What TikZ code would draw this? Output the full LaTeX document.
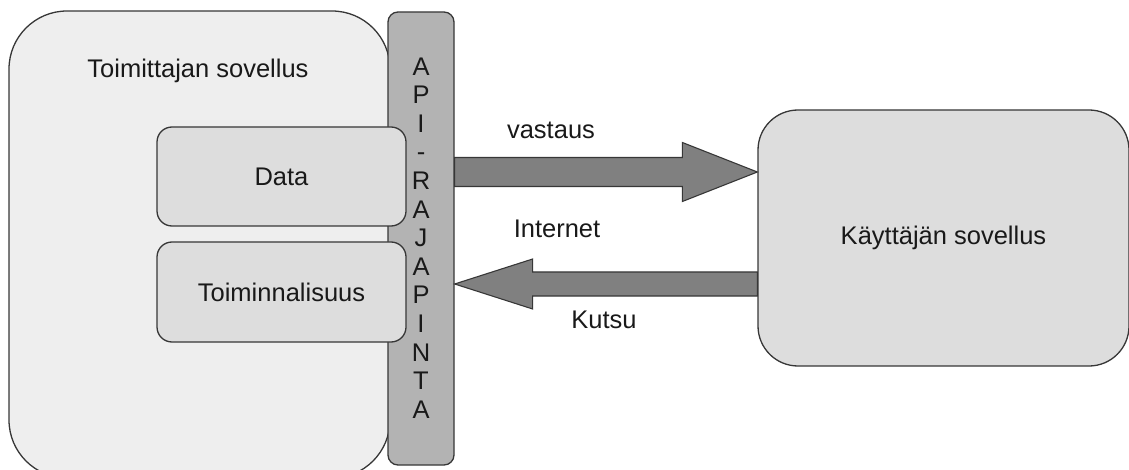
\documentclass[tikz,border=0pt]{standalone}
\usepackage{fontspec}
\setmainfont{Liberation Sans}
\usetikzlibrary{calc}
\definecolor{edge}{RGB}{55,55,55}
\definecolor{outerfill}{RGB}{238,238,238}
\definecolor{innerfill}{RGB}{221,221,221}
\definecolor{apifill}{RGB}{179,179,179}
\definecolor{arrowgray}{RGB}{128,128,128}
\definecolor{txt}{RGB}{25,25,25}
\tikzset{
  box/.style={draw=edge, line width=1.3pt, inner sep=0pt, text=txt},
  lbl/.style={inner sep=0pt, text=txt, font=\fontsize{25.5}{30}\selectfont},
  blockarrow/.style={draw=edge, line width=1.1pt, fill=arrowgray, line join=miter},
}
\begin{document}
\begin{tikzpicture}[x=1pt,y=-1pt]
\useasboundingbox (0,0) rectangle (1129,470);
% outer provider application
\node[box, fill=outerfill, rounded corners=58pt, minimum width=381pt, minimum height=467pt] (prov) at (199.5,244.5) {};
\node[lbl] (provlbl) at (198,71) {Toimittajan sovellus};
% API bar
\node[box, fill=apifill, rounded corners=10pt, minimum width=66pt, minimum height=453pt] (api) at (421,238.5) {};
\node[lbl, align=center, font=\fontsize{25.5}{28.6}\selectfont] (apilbl) at (421,238)
  {A\\P\\I\\-\\R\\A\\J\\A\\P\\I\\N\\T\\A};
% inner boxes
\node[box, fill=innerfill, rounded corners=15pt, minimum width=249pt, minimum height=99pt, font=\fontsize{25.5}{30}\selectfont] (data) at (281.5,176.5) {Data};
\node[box, fill=innerfill, rounded corners=15pt, minimum width=249pt, minimum height=100pt, font=\fontsize{25.5}{30}\selectfont] (func) at (281.5,292) {Toiminnalisuus};
% user application
\node[box, fill=innerfill, rounded corners=40pt, minimum width=371pt, minimum height=256pt, font=\fontsize{25.5}{30}\selectfont] (user) at (943.5,238) {Käyttäjän sovellus};
% arrows
\path (api.east |- 0,172) coordinate (vs) (user.west |- 0,172) coordinate (ve);
\draw[blockarrow] ($(vs)+(0,-14.5)$) -- ($(ve)+(-75,-14.5)$) -- ($(ve)+(-75,-29.5)$) -- (ve)
  -- ($(ve)+(-75,29.5)$) -- ($(ve)+(-75,14.5)$) -- ($(vs)+(0,14.5)$) -- cycle;
\path (user.west |- 0,284) coordinate (ks) (api.east |- 0,284) coordinate (ke);
\draw[blockarrow] ($(ks)+(0,-12)$) -- ($(ke)+(78,-12)$) -- ($(ke)+(78,-25)$) -- (ke)
  -- ($(ke)+(78,25)$) -- ($(ke)+(78,12)$) -- ($(ks)+(0,12)$) -- cycle;
% labels
\node[lbl] (vastaus) at (551,130) {vastaus};
\node[lbl] (internet) at (557,229) {Internet};
\node[lbl] (kutsu) at (604,320) {Kutsu};
\end{tikzpicture}
\end{document}
